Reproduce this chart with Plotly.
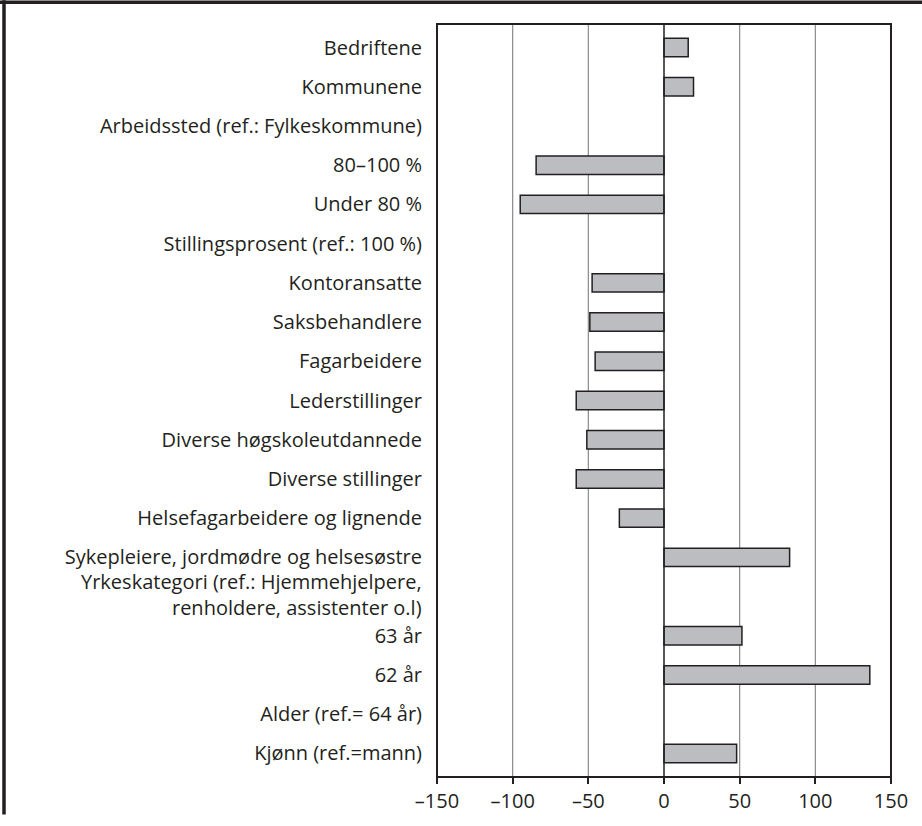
import plotly.graph_objects as go

# Row labels, top to bottom
categories = [
    "Bedriftene",
    "Kommunene",
    "Arbeidssted (ref.: Fylkeskommune)",
    "80–100 %",
    "Under 80 %",
    "Stillingsprosent (ref.: 100 %)",
    "Kontoransatte",
    "Saksbehandlere",
    "Fagarbeidere",
    "Lederstillinger",
    "Diverse høgskoleutdannede",
    "Diverse stillinger",
    "Helsefagarbeidere og lignende",
    "Sykepleiere, jordmødre og helsesøstre",
    "Yrkeskategori (ref.: Hjemmehjelpere,<br>renholdere, assistenter o.l)",
    "63 år",
    "62 år",
    "Alder (ref.= 64 år)",
    "Kjønn (ref.=mann)",
]

# Effect per row (None = reference group heading, no bar)
values = [16, 19.5, None, -84.5, -95, None, -47.5, -49, -45.5, -58, -51, -58,
          -29.5, 83, None, 51.5, 136, None, 48]

x_ticks = [-150, -100, -50, 0, 50, 100, 150]
x_tick_labels = ["–150", "–100", "–50", "0", "50", "100", "150"]

FONT = "Open Sans, Noto Sans, sans-serif"
FSIZE = 20
TEXT = "#231f20"

fig = go.Figure()
fig.add_trace(go.Bar(
    y=categories,
    x=values,
    orientation="h",
    width=0.47,
    marker=dict(color="#bcbdc1", line=dict(color="#231f20", width=1.5)),
    hoverinfo="x",
))

# gridlines at ±50, ±100 and a dark zero line
for gx in [-100, -50, 50, 100]:
    fig.add_shape(type="line", xref="x", yref="paper", x0=gx, x1=gx, y0=0, y1=1,
                  line=dict(color="#8a8a8a", width=1.2), layer="below")
fig.add_shape(type="line", xref="x", yref="paper", x0=0, x1=0, y0=0, y1=1,
              line=dict(color="#231f20", width=1.5), layer="above")

# plot box
fig.add_shape(type="rect", xref="paper", yref="paper", x0=0, x1=1, y0=0, y1=1,
              line=dict(color="#231f20", width=2), layer="above")

# outer frame: top and left edges
L, R, T, B = 437, 31, 24, 38
W, H = 922, 826
pw, ph = W - L - R, H - T - B
def px(xp):
    return (xp - L) / pw
def py(yp):
    return 1 - (yp - T) / ph
fig.add_shape(type="line", xref="paper", yref="paper", x0=px(0), x1=px(W),
              y0=py(2), y1=py(2), line=dict(color="#231f20", width=3.5))
fig.add_shape(type="line", xref="paper", yref="paper", x0=px(4), x1=px(4),
              y0=py(0), y1=py(H), line=dict(color="#231f20", width=3.5))

# the two-line heading is set as a right-aligned annotation; other rows use tick text
wrap_idx = next(i for i, c in enumerate(categories) if "<br>" in c)
tick_text = ["" if i == wrap_idx else c for i, c in enumerate(categories)]
fig.add_annotation(
    x=0, xref="paper", y=categories[wrap_idx], yref="y",
    xanchor="right", yanchor="middle", align="right",
    xshift=-14, yshift=2, text=categories[wrap_idx], showarrow=False,
    borderpad=0, font=dict(family=FONT, size=FSIZE, color=TEXT),
)

fig.update_layout(
    width=W, height=H,
    margin=dict(l=L, r=R, t=T, b=B, pad=0),
    paper_bgcolor="white", plot_bgcolor="white",
    showlegend=False,
    font=dict(family=FONT, size=FSIZE, color=TEXT),
    xaxis=dict(
        range=[-150, 150], tickvals=x_ticks, ticktext=x_tick_labels,
        showgrid=False, zeroline=False, showline=False,
        ticks="outside", ticklen=6, tickwidth=1.5, tickcolor="#231f20",
        tickfont=dict(family=FONT, size=FSIZE, color=TEXT),
    ),
    yaxis=dict(
        type="category", categoryorder="array", categoryarray=categories,
        tickvals=categories, ticktext=tick_text,
        range=[len(categories) - 1 + 0.6, -0.6],
        showgrid=False, zeroline=False, showline=False, ticks="",
        ticklabelstandoff=14,
        tickfont=dict(family=FONT, size=FSIZE, color=TEXT),
    ),
)

fig.write_html("out.html")
